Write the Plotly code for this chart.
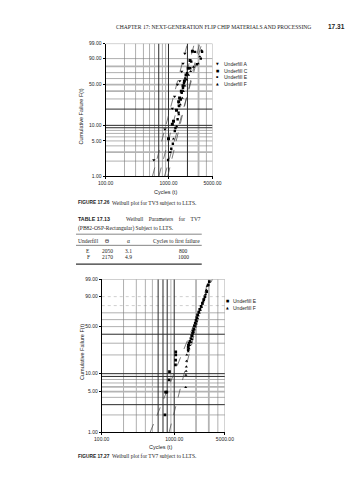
import numpy as np
import plotly.graph_objects as go

# ---------------- DATA ----------------
# Figure 17.26 - TV3 (cycles, cumulative failure %)
tv3_A_cycles = [585, 877, 1150, 1250, 1390, 1510, 1620, 1700, 1820]
tv3_A_pct = [2.1, 8.4, 20.6, 33, 50, 56, 72, 84, 94.6]
tv3_C_cycles = [1000, 1150, 1200, 1340, 1450, 1500, 1600, 1700, 1790, 1900, 2050, 2200, 2400]
tv3_C_pct = [5.5, 10.5, 12, 19, 27, 31, 40, 48, 56, 66, 77, 88, 96]
tv3_E_cycles = [986, 1107, 1173, 1259, 1290, 1396, 1446, 1479, 1567, 1622, 1700, 1760, 1850, 1977, 2218, 2300, 2643, 2833, 3260, 3414]
tv3_E_pct = [2.1, 3.5, 4.4, 7.8, 8.9, 13, 17.3, 22.7, 29.2, 37.6, 44.5, 52.3, 60, 69, 77, 86.5, 95.7, 83, 90, 95.7]
tv3_F_cycles = [1060, 1200, 1350, 1460, 1540, 1650, 1720, 1820, 1950, 2080, 2250, 2500, 2966, 3150, 3373]
tv3_F_pct = [3, 5.5, 9.5, 16, 24, 31, 40, 48, 58, 66, 72, 79, 84, 92, 96.5]
tv3_names = ["Underfill A", "Underfill C", "Underfill E", "Underfill F"]
tv3_theta = [1454, 1864, 2405, 2330]
tv3_beta = [4.79, 4.72, 4.5, 5.27]

# Figure 17.27 - TV7
tv7_E_cycles = [745, 760, 790, 850, 860, 1040, 1045, 1050, 1050, 1560, 1560, 1570, 1600, 1650, 1700, 1740,
                1790, 1830, 1860, 1900, 1950, 2000, 2050, 2100, 2180, 2250, 2350, 2450, 2550, 2650, 2800, 2950, 3050]
tv7_E_pct = [2.0, 4.9, 4.9, 7.9, 10.8, 13.9, 16.6, 20.0, 22.3, 24, 26, 28, 30, 32, 35, 38,
             41, 44, 47, 51, 55, 59, 63, 67, 71, 75, 79, 83, 87, 90, 94, 97.5, 98.5]
tv7_F_cycles = [1440, 1450, 1460, 1470, 1480, 1490, 1560, 1600, 1640, 1700, 1760, 1800, 1850, 1900,
                1950, 2000, 2040, 2100, 2150, 2220, 2300, 2380, 2450, 2520, 2600, 2700, 2780, 2850]
tv7_F_pct = [5.9, 9.5, 11, 13, 16, 20, 22.5, 25, 28, 31, 34, 38, 42, 46,
             50, 54, 58, 62, 66, 70, 74, 78, 82, 85, 88, 92, 95, 97]

# Table 17.13
tbl_underfill = ["E", "F"]
tbl_theta = [2050, 2170]
tbl_alpha = [3.1, 4.9]
tbl_first = [800, 1000]

y_tick_pct = [1, 5, 10, 50, 90, 99]
y_tick_text = ["1.00", "5.00", "10.00", "50.00", "90.00", "99.00"]
x_tick_vals = [100, 1000, 5000]
x_tick_text = ["100.00", "1000.00", "5000.00"]

# ---------------- HELPERS ----------------
W, H = 358, 480
SERIF = "Liberation Serif"
SANS = "Liberation Sans"


def wb(p):
    p = np.asarray(p, dtype=float) / 100.0
    return np.log(-np.log(1.0 - p))


def fit_line(theta, beta):
    f = np.array([1.0, 99.0])
    t = theta * (-np.log(1 - f / 100.0)) ** (1.0 / beta)
    return t, wb(f)


def PX(x):
    return x / W


def PY(y):
    return 1 - y / H


fig = go.Figure()

styles = {
    "thin": dict(color="#7a7a7a", width=0.6),
    "light": dict(color="#b0b0b0", width=0.6, dash="dot"),
    "gray": dict(color="#b4b4b4", width=1.8),
    "dark": dict(color="#2a2a2a", width=1.0),
}
grid1_h = {"thin": [99, 90, 70, 60, 30, 8, 7, 6, 5, 4, 2], "gray": [80, 50, 40, 3], "dark": [20, 10, 9]}
grid1_v = {"thin": [200, 300, 400, 500, 600, 800, 900, 4000, 5000], "gray": [3000], "dark": [700, 1000, 2000]}
grid2_h = {"light": [90, 80], "thin": [99, 70, 60, 50, 30, 20, 8, 7, 4, 2], "gray": [6, 5], "dark": [40, 10, 9, 3]}
grid2_v = {"thin": [200, 300, 400, 500, 900, 4000, 5000], "gray": [2000, 3000], "dark": [600, 700, 800, 1000]}

y_lo, y_hi = float(wb(1)), float(wb(99))


def add_grid(gh, gv, xa, ya):
    for order in ["light", "thin", "gray", "dark"]:
        xs, ys = [], []
        for v in gv.get(order, []):
            xs += [v, v, None]
            ys += [y_lo, y_hi, None]
        for p in gh.get(order, []):
            yv = float(wb(p))
            xs += [100, 5000, None]
            ys += [yv, yv, None]
        if xs:
            fig.add_trace(go.Scatter(x=xs, y=ys, mode="lines", line=styles[order], xaxis=xa, yaxis=ya,
                                     hoverinfo="skip", showlegend=False))


add_grid(grid1_h, grid1_v, "x", "y")
add_grid(grid2_h, grid2_v, "x2", "y2")

for th, be in zip(tv3_theta, tv3_beta):
    t, y = fit_line(th, be)
    fig.add_trace(go.Scatter(x=t, y=y, mode="lines", line=dict(color="#444", width=0.7, dash="dash"),
                             xaxis="x", yaxis="y", hoverinfo="skip", showlegend=False))
for th, al in zip(tbl_theta, tbl_alpha):
    t, y = fit_line(th, al)
    fig.add_trace(go.Scatter(x=t, y=y, mode="lines", line=dict(color="#444", width=0.7, dash="dash"),
                             xaxis="x2", yaxis="y2", hoverinfo="skip", showlegend=False))

sym = {"A": ("triangle-down", 3.0), "C": ("square", 3.0), "E": ("square", 2.4), "F": ("triangle-up", 2.8)}
for key, cx, cy in [("A", tv3_A_cycles, tv3_A_pct), ("C", tv3_C_cycles, tv3_C_pct),
                    ("E", tv3_E_cycles, tv3_E_pct), ("F", tv3_F_cycles, tv3_F_pct)]:
    s, sz = sym[key]
    fig.add_trace(go.Scatter(x=cx, y=wb(cy), mode="markers", marker=dict(symbol=s, size=sz, color="black"),
                             xaxis="x", yaxis="y", name="Underfill " + key, showlegend=False))
for key, cx, cy in [("E", tv7_E_cycles, tv7_E_pct), ("F", tv7_F_cycles, tv7_F_pct)]:
    s = "square" if key == "E" else "triangle-up"
    fig.add_trace(go.Scatter(x=cx, y=wb(cy), mode="markers", marker=dict(symbol=s, size=2.7, color="black"),
                             xaxis="x2", yaxis="y2", name="Underfill " + key, showlegend=False))

axis_common = dict(showgrid=False, zeroline=False, showline=True, linecolor="black", linewidth=1,
                   ticks="outside", ticklen=2, tickcolor="black", tickfont=dict(family=SANS, size=5, color="#222"))
xa_common = dict(axis_common, type="log", range=[2, np.log10(5000)], tickvals=x_tick_vals, ticktext=x_tick_text)
ya_common = dict(axis_common, range=[y_lo, y_hi], tickvals=list(wb(y_tick_pct)), ticktext=y_tick_text)

fig.update_layout(
    width=W, height=H, margin=dict(l=0, r=0, t=0, b=0),
    paper_bgcolor="white", plot_bgcolor="white", showlegend=False,
    xaxis=dict(xa_common, domain=[PX(94), PX(206.3)], anchor="y"),
    yaxis=dict(ya_common, domain=[PY(167.3), PY(33)], anchor="x"),
    xaxis2=dict(xa_common, domain=[PX(90), PX(219.3)], anchor="y2"),
    yaxis2=dict(ya_common, domain=[PY(426.7), PY(271.7)], anchor="x2"),
)

ann = []


def text(x, y, s, size=6, family=SERIF, xanchor="left", color="#222", angle=0):
    ann.append(dict(x=PX(x), y=PY(y), xref="paper", yref="paper", text=s, showarrow=False,
                    xanchor=xanchor, yanchor="middle", textangle=angle,
                    font=dict(family=family, size=size, color=color)))


text(312, 16, "CHAPTER 17: NEXT-GENERATION FLIP CHIP MATERIALS AND PROCESSING", size=5.6, xanchor="right")
text(325, 16, "<b>17.31</b>", size=6.5, family=SANS)

text(68, 107, "Cumulative Failure F(t)", size=5.5, family=SANS, xanchor="center", angle=-90)
text(157, 183.5, "Cycles (t)", size=5.5, family=SANS, xanchor="center")
leg1_sym = ["▼", "■", "▪", "▲"]
for i, (nm, sy) in enumerate(zip(tv3_names, leg1_sym)):
    yy = 53.5 + i * 6.8
    text(212, yy, sy, size=3.5, family="DejaVu Sans", xanchor="center", color="black")
    text(216, yy, nm, size=5, family=SANS)
text(63, 194, "<b>FIGURE 17.26</b>", size=4.8, family=SANS)
text(99, 194, "Weibull plot for TV3 subject to LLTS.", size=5.5)

text(63, 211, "<b>TABLE 17.13</b>", size=5.3, family=SANS)
text(196, 211, "Weibull\u00a0\u00a0\u00a0 Parameters\u00a0\u00a0\u00a0 for\u00a0\u00a0\u00a0 TV7", size=5.5, xanchor="right")
text(63, 220, "(PB82-OSP-Rectangular) Subject to LLTS.", size=5.5)
cols = [(63, "left", "Underfill"), (96, "center", "Θ"), (118, "center", "α"), (195, "right", "Cycles to first failure")]
for cx, anc, lab in cols:
    text(cx, 232.5, lab, size=5.5, xanchor=anc)
for r, (u, th, al, ff) in enumerate(zip(tbl_underfill, tbl_theta, tbl_alpha, tbl_first)):
    yy = 243.3 + r * 6
    text(76, yy, u, size=5.5, xanchor="center")
    text(96, yy, str(th), size=5.5, xanchor="center")
    text(118, yy, f"{al:.1f}", size=5.5, xanchor="center")
    text(176, yy, str(ff), size=5.5, xanchor="center")

shapes = []
for yy, wdt in [(226, 0.6), (237.3, 0.6), (256.3, 1.2)]:
    shapes.append(dict(type="line", xref="paper", yref="paper", x0=PX(63), x1=PX(195), y0=PY(yy), y1=PY(yy),
                       line=dict(color="#333", width=wdt)))

text(68.5, 345, "Cumulative Failure F(t)", size=5.5, family=SANS, xanchor="center", angle=-90)
text(152, 442, "Cycles (t)", size=5.5, family=SANS, xanchor="center")
for i, (nm, sy) in enumerate(zip(["Underfill E", "Underfill F"], ["■", "▲"])):
    yy = 293.5 + i * 7
    text(222, yy, sy, size=3.5, family="DejaVu Sans", xanchor="center", color="black")
    text(226, yy, nm, size=5, family=SANS)
text(63, 451, "<b>FIGURE 17.27</b>", size=4.8, family=SANS)
text(99, 451, "Weibull plot for TV7 subject to LLTS.", size=5.5)

fig.update_layout(annotations=ann, shapes=shapes)
fig.write_html("out.html")
